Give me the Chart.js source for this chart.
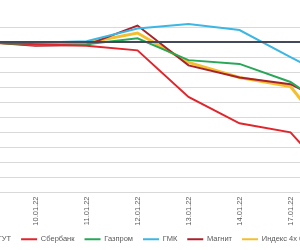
<!DOCTYPE html>
<html>
<head>
<meta charset="utf-8">
<script src="https://cdn.jsdelivr.net/npm/chart.js@4.4.1/dist/chart.umd.min.js"></script>
<style>
  html, body { margin: 0; padding: 0; width: 300px; height: 250px; overflow: hidden; background: #fff; }
  #wrap { position: absolute; left: -41px; top: 0; width: 408px; height: 253px; }
</style>
</head>
<body>
<div id="wrap"><canvas id="dynamicsChart"></canvas></div>
<script>
// dates (trading days) and % change from start
var dates = ["30.12.21", "10.01.22", "11.01.22", "12.01.22", "13.01.22", "14.01.22", "17.01.22", "18.01.22"];
var surgut  = [0, 0, 0, 0, 0, 0, 0, 0];
var sber    = [0, -0.3, -0.5, -1.1, -7.3, -10.8, -12.0, -19.5];
var gazprom = [0, -0.4, -0.3, 0.5, -2.4, -2.9, -5.3, -9.9];
var gmk     = [0, -0.1, 0.1, 1.8, 2.4, 1.6, -2.0, -5.5];
var magnit  = [0, -0.5, -0.4, 2.2, -3.1, -4.7, -5.6, -9.0];
var index4  = [0, -0.3, -0.1, 1.2, -2.7, -4.7, -5.9, -14.5];

function line(label, data, color, width) {
    return {
        label: label,
        data: data,
        borderColor: color,
        backgroundColor: color,
        borderWidth: width,
        pointRadius: 0,
        tension: 0,
        fill: false
    };
}

var font = { family: "Liberation Sans", size: 7.5 };

// legend sits a bit left of centre in the original
var legendShift = {
    id: "legendShift",
    afterLayout: function (c) {
        c.legend.left -= 6;
        c.legend.right -= 6;
    }
};

var chart = new Chart(document.getElementById("dynamicsChart"), {
    type: "line",
    data: {
        labels: dates,
        datasets: [
            line("СУРГУТ", surgut, "#44495a", 2),
            line("Сбербанк", sber, "#e0262c", 2),
            line("Газпром", gazprom, "#28a759", 2),
            line("ГМК", gmk, "#3cb6e3", 2),
            line("Магнит", magnit, "#a8222c", 2),
            line("Индекс 4х бумаг", index4, "#f4bf2f", 3)
        ]
    },
    options: {
        responsive: true,
        maintainAspectRatio: false,
        animation: false,
        layout: { padding: { top: 12, left: 0, right: 0, bottom: 0 } },
        scales: {
            x: {
                offset: true,
                grid: { display: false, drawTicks: false },
                border: { display: false },
                ticks: { font: font, color: "#595959", minRotation: 90, maxRotation: 90, padding: 4 },
                afterFit: function (axis) { axis.height = 33; }
            },
            y: {
                min: -20,
                max: 4,
                ticks: { display: false, stepSize: 2 },
                grid: {
                    drawTicks: false,
                    color: function (ctx) { return ctx.tick && ctx.tick.value === 4 ? "rgba(0,0,0,0)" : "#d9d9d9"; }
                },
                border: { display: false }
            }
        },
        plugins: {
            tooltip: { enabled: false },
            legend: {
                position: "bottom",
                align: "start",
                labels: {
                    font: font,
                    color: "#595959",
                    boxWidth: 16,
                    boxHeight: 2,
                    padding: 10,
                    sort: function (a, b) { return a.datasetIndex - b.datasetIndex; },
                    generateLabels: function (c) {
                        return Chart.defaults.plugins.legend.labels.generateLabels(c).map(function (l) {
                            l.lineWidth = 0;
                            l.fillStyle = l.strokeStyle;
                            return l;
                        });
                    }
                }
            }
        }
    },
    plugins: [legendShift]
});
</script>
</body>
</html>
